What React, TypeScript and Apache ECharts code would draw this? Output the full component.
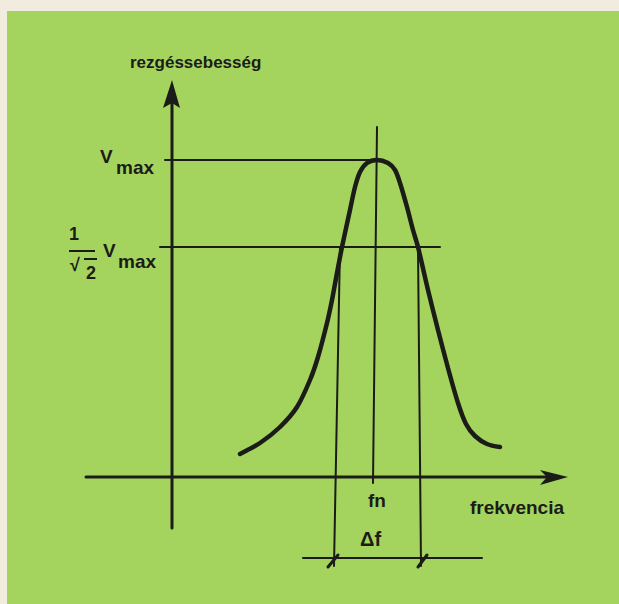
import React, { useEffect, useRef } from "react";
import * as echarts from "echarts";

// Resonance curve: frequency (x) vs vibration velocity (y), drawing units
const curveFreq = [68, 88, 108, 125, 138, 146, 155, 160, 165, 170, 178, 183, 188, 195, 205, 216, 223, 228, 235, 241, 246, 256, 266, 276, 286, 294, 303, 315, 328];
const curveVel = [23, 34, 50, 70, 97, 120, 154, 177, 204, 230, 267, 290, 305, 314, 317, 314, 307, 294, 270, 247, 230, 187, 147, 109, 74, 53, 41, 33, 30];

const V_MAX = 317;
const V_HALF = 230;
const F_N = 205;
const F_LOW = 168;
const F_HIGH = 246;
const DIM_Y = -81;

const yAxisLine = [[0, -51], [0, 374]];
const xAxisLine = [[-86, 0], [375, 0]];
const vmaxLine = [[-7, V_MAX], [F_N, V_MAX]];
const halfLine = [[-12, V_HALF], [268, V_HALF]];
const fnLine = [[F_N, 350], [201, -6]];
const lowLine = [[F_LOW, V_HALF], [162, -89]];
const highLine = [[F_HIGH, V_HALF], [249, -89]];
const dimLine = [[131, DIM_Y], [310, DIM_Y]];
const tickLow = [[156, -90], [166, -78]];
const tickHigh = [[246, -90], [255, -78]];
const yArrow = [[0, 397], [-9, 369], [0, 374], [8, 369]];
const xArrow = [[396, 0], [368, 7], [375, 0], [368, -8]];

const INK = "#1b1c18";
const GREEN = "#a4d45e";
const PAPER = "#f1ecdd";
const FONT = "'Liberation Sans', Arial, sans-serif";

function seg(data: number[][], width: number) {
  return {
    type: "line",
    data,
    symbol: "none",
    silent: true,
    lineStyle: { color: INK, width, cap: "round" },
    z: 3,
  };
}

function txt(text: string, x: number, y: number, size: number, align = "left") {
  return {
    type: "text",
    x,
    y,
    silent: true,
    z: 10,
    style: {
      text,
      fill: INK,
      font: `bold ${size}px ${FONT}`,
      textAlign: align,
      textVerticalAlign: "middle",
    },
  };
}

export default function App() {
  const ref = useRef<HTMLDivElement>(null);
  useEffect(() => {
    if (!ref.current) return;
    const chart = echarts.init(ref.current, null, { renderer: "svg" });
    const arrows = [yArrow, xArrow];
    chart.setOption({
      animation: false,
      backgroundColor: PAPER,
      grid: { left: 0, right: 0, top: 0, bottom: 0 },
      xAxis: { type: "value", min: -172, max: 447, show: false },
      yAxis: { type: "value", min: -127, max: 477, show: false },
      graphic: [
        { type: "rect", z: -1, silent: true, shape: { x: 7, y: 11, width: 612, height: 593 }, style: { fill: GREEN } },
        txt("rezgéssebesség", 130, 62, 17),
        txt("V", 100, 156, 19),
        txt("max", 116, 167, 19),
        txt("1", 74, 234, 18, "center"),
        { type: "line", silent: true, z: 10, shape: { x1: 69, y1: 251, x2: 95, y2: 251 }, style: { stroke: INK, lineWidth: 2 } },
        txt("√", 70, 265, 18),
        txt("2", 86, 273, 18),
        { type: "line", silent: true, z: 10, shape: { x1: 84, y1: 259, x2: 97, y2: 259 }, style: { stroke: INK, lineWidth: 2 } },
        txt("V", 103, 250, 19),
        txt("max", 118, 261, 19),
        txt("fn", 377, 500, 19, "center"),
        txt("frekvencia", 470, 507, 19),
        txt("Δf", 360, 539, 20),
      ],
      series: [
        seg(yAxisLine, 3),
        seg(xAxisLine, 3),
        seg(vmaxLine, 2),
        seg(halfLine, 2),
        seg(fnLine, 2),
        seg(lowLine, 2),
        seg(highLine, 2),
        seg(dimLine, 2),
        seg(tickLow, 3),
        seg(tickHigh, 3),
        {
          type: "line",
          data: curveFreq.map((f, i) => [f, curveVel[i]]),
          symbol: "none",
          smooth: 0.3,
          silent: true,
          lineStyle: { color: INK, width: 4.5, cap: "round" },
          z: 4,
        },
        {
          type: "custom",
          silent: true,
          data: arrows.map((_, i) => [i, 0]),
          renderItem: (params: any, api: any) => ({
            type: "polygon",
            shape: { points: arrows[params.dataIndex].map((p) => api.coord(p)) },
            style: { fill: INK },
          }),
          z: 5,
        },
      ],
    });
    return () => chart.dispose();
  }, []);
  return <div ref={ref} style={{ position: "fixed", left: 0, top: 0, width: 619, height: 604 }} />;
}
